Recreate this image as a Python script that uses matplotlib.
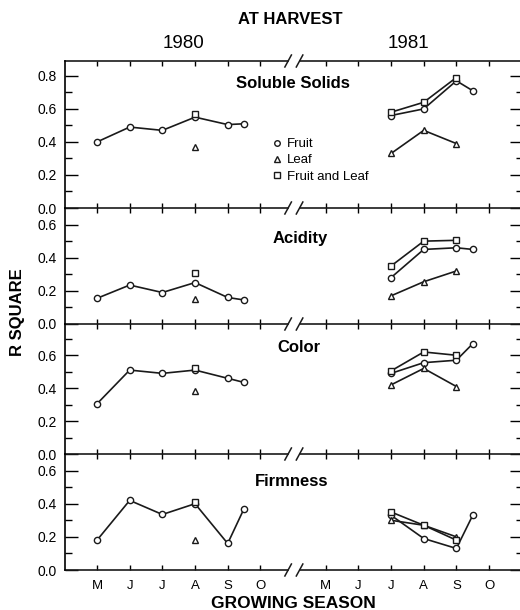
import matplotlib
matplotlib.use("Agg")
import matplotlib.pyplot as plt
from matplotlib.lines import Line2D
import numpy as np

plt.rcParams['font.family'] = ['Liberation Sans', 'DejaVu Sans']

# month ticks, 1980 on the left, 1981 on the right of the break
month_labels = ["M", "J", "J", "A", "S", "O", "M", "J", "J", "A", "S", "O"]
month_x = [0, 1, 2, 3, 4, 5, 7, 8, 9, 10, 11, 12]

x_fruit80 = [0, 1, 2, 3, 4, 4.5]   # last point = at harvest
x_single80 = [3]
x_fruit81 = [9, 10, 11, 11.5]
x_other81 = [9, 10, 11]

titles = ["Soluble Solids", "Acidity", "Color", "Firmness"]

# one row per panel (Soluble Solids, Acidity, Color, Firmness)
fruit80 = [[0.40, 0.49, 0.47, 0.55, 0.505, 0.51],
           [0.155, 0.235, 0.19, 0.25, 0.16, 0.145],
           [0.305, 0.51, 0.49, 0.51, 0.46, 0.435],
           [0.18, 0.42, 0.335, 0.40, 0.16, 0.37]]
leaf80 = [[0.37], [0.15], [0.385], [0.18]]
both80 = [[0.57], [0.31], [0.52], [0.41]]

fruit81 = [[0.56, 0.60, 0.77, 0.71],
           [0.28, 0.45, 0.46, 0.45],
           [0.49, 0.555, 0.57, 0.67],
           [0.33, 0.19, 0.13, 0.33]]
leaf81 = [[0.33, 0.47, 0.39],
          [0.17, 0.255, 0.32],
          [0.42, 0.52, 0.41],
          [0.30, 0.27, 0.20]]
both81 = [[0.58, 0.64, 0.79],
          [0.35, 0.50, 0.505],
          [0.505, 0.62, 0.60],
          [0.35, 0.27, 0.18]]

ytops = [0.89, 0.70, 0.79, 0.70]
ylabel_max = [0.8, 0.6, 0.6, 0.6]

W, H = 520, 610
fig = plt.figure(figsize=(W / 100, H / 100), dpi=100)

L, R = 65, 523
rows = [(61, 208), (208, 324), (324, 454), (454, 570)]
xl = -0.98
xr = xl + (R - L) / 32.67
brk1, brk2 = 5.85, 6.2

style = dict(color="#1a1a1a", lw=1.2, mfc="white", mec="#1a1a1a",
             mew=1.0, ms=4.5, clip_on=False, zorder=3)

axes = []
for i, (top, bot) in enumerate(rows):
    ax = fig.add_axes([L / W, 1 - bot / H, (R - L) / W, (bot - top) / H])
    axes.append(ax)
    ax.set_xlim(xl, xr)
    ax.set_ylim(0, ytops[i])

    ax.plot(x_fruit80, fruit80[i], marker="o", **style)
    ax.plot(x_single80, leaf80[i], marker="^", ls="none", **style)
    ax.plot(x_single80, both80[i], marker="s", ls="none", **style)
    ax.plot(x_fruit81, fruit81[i], marker="o", **style)
    ax.plot(x_other81, leaf81[i], marker="^", **style)
    ax.plot(x_other81, both81[i], marker="s", **style)

    for s in ["top", "bottom", "right"]:
        ax.spines[s].set_visible(False)
    ax.spines["left"].set_linewidth(1.2)

    # horizontal frame lines with the // break
    hpx = bot - top
    ys = [0, 1] if i == 0 else [0]
    tr = ax.get_xaxis_transform()
    for yy in ys:
        ax.plot([xl, brk1], [yy, yy], color="#1a1a1a", lw=1.2,
                transform=tr, clip_on=False)
        ax.plot([brk2, xr], [yy, yy], color="#1a1a1a", lw=1.2,
                transform=tr, clip_on=False)
        for bx in (brk1, brk2):
            ax.plot([bx - 0.1, bx + 0.1], [yy - 6 / hpx, yy + 6 / hpx],
                    color="#1a1a1a", lw=1.1, transform=tr, clip_on=False)

    ax.set_xticks(month_x)
    ax.tick_params(axis="x", direction="in", top=True, bottom=True,
                   length=3.5, width=1.0, labelbottom=False)
    ax.set_yticks(np.arange(0, ylabel_max[i] + 0.01, 0.2))
    ax.set_yticks(np.arange(0, ytops[i], 0.1), minor=True)
    ax.set_yticklabels([f"{v:.1f}" for v in np.arange(0, ylabel_max[i] + 0.01, 0.2)])
    ax.tick_params(axis="y", which="major", direction="in", left=True,
                   right=True, length=9.5, width=1.0, labelsize=10, pad=6)
    ax.tick_params(axis="y", which="minor", direction="in", left=True,
                   right=True, length=5, width=1.0)
    ax.patch.set_alpha(0)

axes[-1].tick_params(axis="x", labelbottom=True, labelsize=9.5, pad=7)
axes[-1].set_xticklabels(month_labels)

# legend in the top panel
handles = [Line2D([], [], marker=m, ls="none", mfc="white", mec="#1a1a1a",
                  mew=1.0, ms=4) for m in ["o", "^", "s"]]
axes[0].legend(handles, ["Fruit", "Leaf", "Fruit and Leaf"], loc="upper left",
               bbox_to_anchor=(272 / W, 1 - 138 / H),
               bbox_transform=fig.transFigure, frameon=False, fontsize=9.5,
               handlelength=0.7, handletextpad=0.4, labelspacing=0.3,
               borderpad=0, borderaxespad=0)

title_pos = [(293, 83), (300, 238), (299, 347), (292, 482)]
for t, (tx, ty) in zip(titles, title_pos):
    fig.text(tx / W, 1 - ty / H, t, ha="center", va="center",
             fontsize=12, fontweight="bold")

fig.text(290 / W, 1 - 20 / H, "AT HARVEST", ha="center", va="center",
         fontsize=12, fontweight="bold")
fig.text(183 / W, 1 - 43 / H, "1980", ha="center", va="center", fontsize=13.5)
fig.text(408 / W, 1 - 43 / H, "1981", ha="center", va="center", fontsize=13.5)
fig.text(293 / W, 1 - 603 / H, "GROWING SEASON", ha="center", va="center",
         fontsize=12.5, fontweight="bold")
fig.text(18 / W, 1 - 312 / H, "R SQUARE", ha="center", va="center",
         rotation=90, fontsize=12, fontweight="bold")

fig.savefig("out.png", dpi=100)
